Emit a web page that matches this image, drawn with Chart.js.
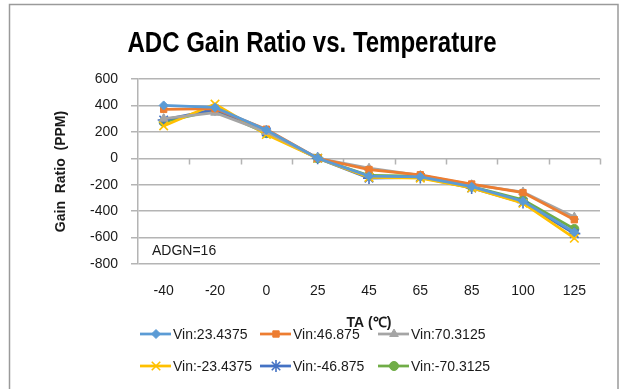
<!DOCTYPE html>
<html>
<head>
<meta charset="utf-8">
<script src="https://cdn.jsdelivr.net/npm/chart.js@4.4.1/dist/chart.umd.min.js"></script>
<style>
  html, body { margin: 0; padding: 0; background: #ffffff; }
  canvas { display: block; }
</style>
</head>
<body>
<canvas id="chart" width="619" height="389"></canvas>
<script>
// Ambient temperature categories (°C)
const temperatures = ['-40', '-20', '0', '25', '45', '65', '85', '100', '125'];

// Gain ratio drift in PPM for each input voltage
const vinPos23 = [400, 385, 215, 0, -135, -140, -215, -325, -560];
const vinPos46 = [370, 375, 220, 0, -85, -125, -195, -260, -465];
const vinPos70 = [300, 345, 200, 0, -75, -130, -200, -255, -445];
const vinNeg23 = [245, 410, 180, 0, -145, -150, -225, -340, -605];
const vinNeg46 = [290, 370, 200, 0, -150, -145, -225, -335, -570];
const vinNeg70 = [275, 365, 190, 0, -130, -135, -215, -315, -535];

const seriesNames = ['Vin:23.4375', 'Vin:46.875', 'Vin:70.3125',
                     'Vin:-23.4375', 'Vin:-46.875', 'Vin:-70.3125'];
const seriesValues = [vinPos23, vinPos46, vinPos70, vinNeg23, vinNeg46, vinNeg70];

// Y axis range
const yMin = -800;
const yMax = 600;
const yStep = 200;

const colors = ['#5B9BD5', '#ED7D31', '#A5A5A5', '#FFC000', '#4472C4', '#70AD47'];
const markers = ['rectRot', 'rect', 'triangle', 'crossRot', 'star', 'circle'];
const markerRadius = [4.5, 4.5, 5, 6, 6, 4.5];

const gridColor = '#b4b4b4';
const textColor = '#1a1a1a';

const datasets = seriesValues.map((vals, i) => ({
  label: seriesNames[i],
  data: vals,
  borderColor: colors[i],
  backgroundColor: colors[i],
  borderWidth: 2.75,
  pointStyle: markers[i],
  pointRadius: markerRadius[i],
  pointBorderColor: colors[i],
  pointBackgroundColor: colors[i],
  pointBorderWidth: (markers[i] === 'crossRot' || markers[i] === 'star') ? 1.6 : 1,
  tension: 0,
  fill: false
}));

function drawMarker(ctx, style, r, x, y, color) {
  if (Chart.helpers && Chart.helpers.drawPoint) {
    ctx.save();
    ctx.fillStyle = color;
    ctx.strokeStyle = color;
    ctx.lineWidth = (style === 'crossRot' || style === 'star') ? 1.6 : 1;
    Chart.helpers.drawPoint(ctx, { pointStyle: style, radius: r, rotation: 0, borderWidth: ctx.lineWidth }, x, y);
    ctx.restore();
  }
}

// Draws text squeezed horizontally to a target width
function fillCondensed(ctx, text, cx, y, width) {
  const w = ctx.measureText(text).width;
  const k = Math.min(1, width / w);
  ctx.save();
  ctx.translate(cx, y);
  ctx.scale(k, 1);
  ctx.textAlign = 'center';
  ctx.fillText(text, 0, 0);
  ctx.restore();
}

const decorations = {
  id: 'decorations',
  beforeDatasetsDraw(chart) {
    const ctx = chart.ctx;
    const xs = chart.scales.x;
    const ys = chart.scales.y;
    const zeroY = Math.round(ys.getPixelForValue(0)) + 0.5;
    const n = temperatures.length;
    const step = (xs.right - xs.left) / n;
    ctx.save();
    ctx.strokeStyle = gridColor;
    ctx.lineWidth = 1.5;
    ctx.beginPath();
    for (let i = 1; i <= n; i++) {
      const x = Math.round(xs.left + i * step) + 0.5;
      ctx.moveTo(x, zeroY);
      ctx.lineTo(x, zeroY + 6);
    }
    ctx.stroke();
    ctx.restore();
  },
  afterDraw(chart) {
    const ctx = chart.ctx;
    const area = chart.chartArea;
    ctx.save();

    // outer frame
    ctx.strokeStyle = '#9a9a9a';
    ctx.lineWidth = 1.5;
    ctx.strokeRect(9.5, 4.5, 608.5, 400);

    // chart title
    ctx.fillStyle = '#000000';
    ctx.font = 'bold 29px "Liberation Sans"';
    ctx.textBaseline = 'alphabetic';
    fillCondensed(ctx, 'ADC Gain Ratio vs. Temperature', 312, 52, 369);

    // value axis title
    ctx.save();
    ctx.translate(65, (area.top + area.bottom) / 2);
    ctx.rotate(-Math.PI / 2);
    ctx.font = 'bold 14px "Liberation Sans"';
    ctx.fillStyle = textColor;
    ctx.textAlign = 'center';
    ctx.fillText('Gain  Ratio  (PPM)', 0, 0);
    ctx.restore();

    // category axis title
    ctx.font = 'bold 14px "Liberation Sans"';
    ctx.fillStyle = textColor;
    ctx.textAlign = 'center';
    ctx.fillText('TA (\u2103)', (area.left + area.right) / 2, 327);

    // gain setting note
    ctx.font = '14px "Liberation Sans"';
    ctx.textAlign = 'left';
    ctx.fillText('ADGN=16', 152, 255);

    // legend: two rows of three entries
    const cols = [140, 260, 378];
    const rows = [334, 366];
    ctx.font = '14px "Liberation Sans"';
    ctx.textBaseline = 'middle';
    seriesNames.forEach((name, i) => {
      const x = cols[i % 3];
      const y = rows[Math.floor(i / 3)];
      ctx.strokeStyle = colors[i];
      ctx.lineWidth = 2.75;
      ctx.beginPath();
      ctx.moveTo(x, y);
      ctx.lineTo(x + 31, y);
      ctx.stroke();
      drawMarker(ctx, markers[i], markerRadius[i], x + 16, y, colors[i]);
      ctx.fillStyle = textColor;
      ctx.fillText(name, x + 33, y + 1);
    });
    ctx.restore();
  }
};

new Chart(document.getElementById('chart'), {
  type: 'line',
  data: { labels: temperatures, datasets: datasets },
  options: {
    responsive: false,
    devicePixelRatio: 1,
    animation: false,
    layout: { padding: { top: 79, right: 19, left: 0, bottom: 0 } },
    plugins: {
      legend: { display: false },
      tooltip: { enabled: false },
      title: { display: false }
    },
    scales: {
      x: {
        type: 'category',
        offset: true,
        grid: { display: false },
        border: { display: false },
        ticks: {
          color: textColor,
          font: { family: 'Liberation Sans', size: 14 },
          padding: 11,
          maxRotation: 0,
          autoSkip: false
        },
        afterFit(scale) { scale.height = 125; }
      },
      y: {
        min: yMin,
        max: yMax,
        ticks: {
          stepSize: yStep,
          color: textColor,
          font: { family: 'Liberation Sans', size: 14 },
          padding: 13
        },
        grid: {
          color: gridColor,
          lineWidth: 1.5,
          tickLength: 7,
          drawTicks: true
        },
        border: { display: true, color: gridColor, width: 1.5 },
        afterFit(scale) { scale.width = 138; }
      }
    }
  },
  plugins: [decorations]
});
</script>
</body>
</html>
